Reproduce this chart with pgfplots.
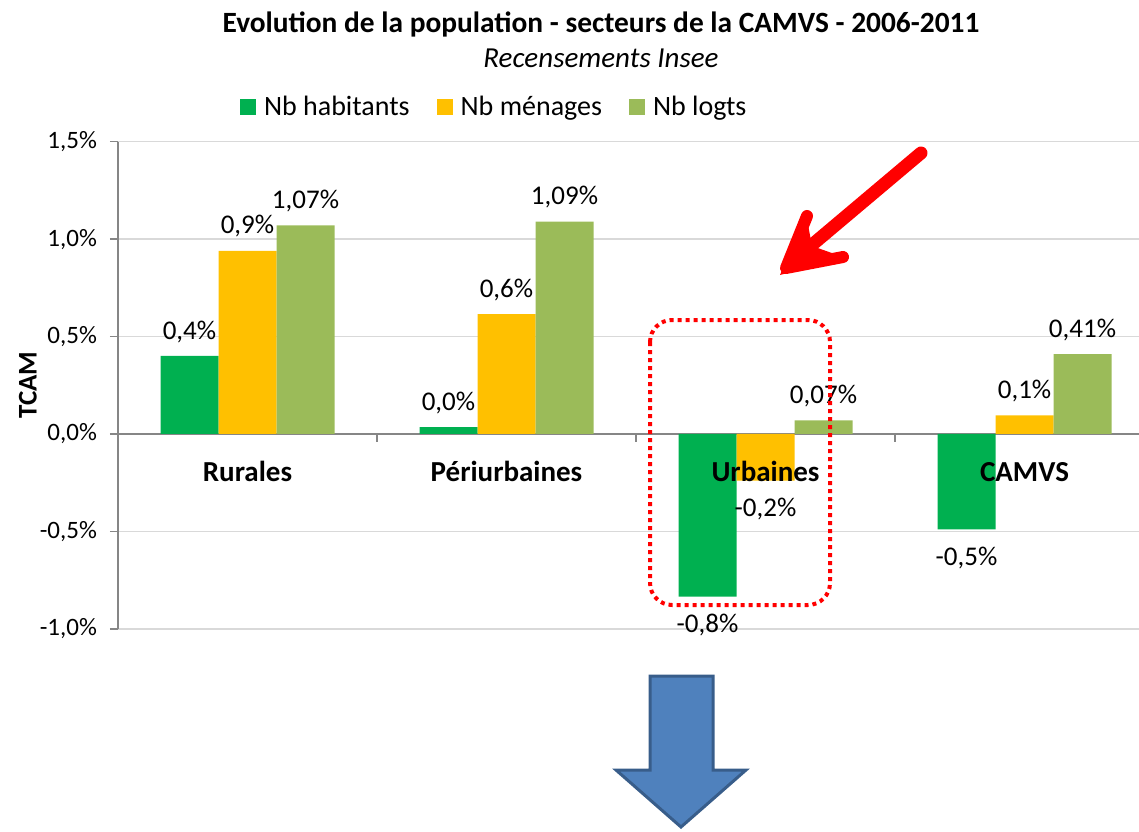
\documentclass[border=0pt]{standalone}
\usepackage{fontspec}
\setmainfont{Carlito}
\usepackage{pgfplots}
\usepackage{pgfplotstable}
\pgfplotsset{compat=1.18}
\pgfplotsset{layers/mylayers/.define layer set={axis background,axis grid,main,axis ticks,axis lines,axis tick labels,axis descriptions,axis foreground}{}}
\definecolor{cHab}{RGB}{0,176,80}
\definecolor{cMen}{RGB}{255,192,0}
\definecolor{cLog}{RGB}{155,187,89}
\definecolor{axgray}{RGB}{134,134,134}
\definecolor{grgray}{RGB}{217,217,217}
\definecolor{bluefill}{RGB}{79,129,189}
\definecolor{blueedge}{RGB}{56,93,138}
\pgfplotstableread{
x  h      m      l     lh    lm    ll
0  0.40   0.94   1.07  0,4   0,9   1,07
1  0.035  0.615  1.09  0,0   0,6   1,09
2  -0.835 -0.24  0.07  -0,8  -0,2  0,07
3  -0.49  0.095  0.41  -0,5  0,1   0,41
}\data
\newcommand{\fs}{\fontsize{12.5}{15}\selectfont}
\newcommand{\fl}{\fontsize{13.5}{16}\selectfont}
\newcommand{\fc}{\fontsize{14.5}{17}\selectfont}
\newcommand{\negstrut}[1]{\ifdim#1pt<0pt\rule{0pt}{11.2pt}\fi}
\begin{document}
\begin{tikzpicture}
\begin{axis}[
  set layers=mylayers,
  at={(0,0)}, anchor=south west,
  scale only axis,
  width=518pt, height=243.5pt,
  ybar=0pt, bar width=29pt,
  xmin=-0.5, xmax=3.5,
  ymin=-1, ymax=1.5,
  axis y line=left,
  axis x line=middle,
  axis line style={-, draw=axgray, line width=0.8pt},
  hide obscured x ticks=false,
  hide obscured y ticks=false,
  ytick={-1,-0.5,0,0.5,1,1.5},
  yticklabels={{-1,0\%},{-0,5\%},{0,0\%},{0,5\%},{1,0\%},{1,5\%}},
  ymajorgrids,
  grid style={grgray, line width=0.8pt},
  y tick style={draw=axgray, line width=0.8pt},
  tick align=outside,
  major tick length=4pt,
  yticklabel style={font=\fs, xshift=-3pt},
  xtick={-0.5,0.5,1.5,2.5,3.5},
  xticklabels={},
  x tick style={draw=axgray, line width=0.8pt},
  ylabel={TCAM},
  ylabel style={font=\bfseries\fl, at={(axis description cs:-0.0869,0.5)}, anchor=center, rotate=0},
  point meta=explicit symbolic,
  visualization depends on={y \as \rawy},
  nodes near coords={\negstrut{\rawy}\pgfplotspointmeta\%},
  nodes near coords style={font=\fl, inner ysep=6.5pt,
    anchor={\ifdim\rawy pt<0pt north\else south\fi}},
  legend columns=3,
  legend style={at={(0.3641,1.0714)}, anchor=center, draw=none, font=\fontsize{14}{16}\selectfont,
    nodes={inner xsep=2pt},
    /tikz/every odd column/.append style={column sep=2pt},
    /tikz/every even column/.append style={column sep=11.5pt}},
  legend image code/.code={\fill[#1] (0pt,-4pt) rectangle (8pt,4pt);},
]
\addplot[fill=cHab, draw=none] table[x=x, y=h, meta=lh] {\data};
\addplot[fill=cMen, draw=none] table[x=x, y=m, meta=lm] {\data};
\addplot[fill=cLog, draw=none] table[x=x, y=l, meta=ll] {\data};
\legend{Nb habitants, Nb ménages, Nb logts}
\node[font=\bfseries\fc, anchor=center, yshift=-19pt] at (axis cs:0,0) {Rurales};
\node[font=\bfseries\fc, anchor=center, yshift=-19pt] at (axis cs:1,0) {Périurbaines};
\node[font=\bfseries\fc, anchor=center, yshift=-19pt] at (axis cs:2,0) {Urbaines};
\node[font=\bfseries\fc, anchor=center, yshift=-19pt] at (axis cs:3,0) {CAMVS};
\end{axis}
\begin{scope}[shift={(-59pt,314.35pt)}, x=0.5pt, y=-0.5pt]
  \node[font=\bfseries\fontsize{14.7}{17}\selectfont] at (601,24) {Evolution de la population - secteurs de la CAMVS - 2006-2011};
  \node[font=\itshape\fc] at (601,58) {Recensements Insee};
  % red dotted frame
  \draw[red, line width=2pt, dash pattern=on 2pt off 2pt, rounded corners=11pt] (650,320) rectangle (830,605);
  % red arrow
  \draw[red, line width=6.5pt, line cap=round] (921,153)--(800,255);
  \draw[red, line width=6pt, line cap=round, line join=round] (807,216)--(786,268)--(843,257);
  \fill[red] (780,275)--(806,214)--(812,246)--(846,258)--cycle;
  % blue arrow
  \draw[fill=bluefill, draw=blueedge, line width=1.5pt] (650,676)--(713,676)--(713,770)--(746,770)--(681,827)--(616,770)--(650,770)--cycle;
\end{scope}
\pgfresetboundingbox
\path (-59pt,-101.15pt) rectangle (510.5pt,314.35pt);
\end{tikzpicture}
\end{document}
